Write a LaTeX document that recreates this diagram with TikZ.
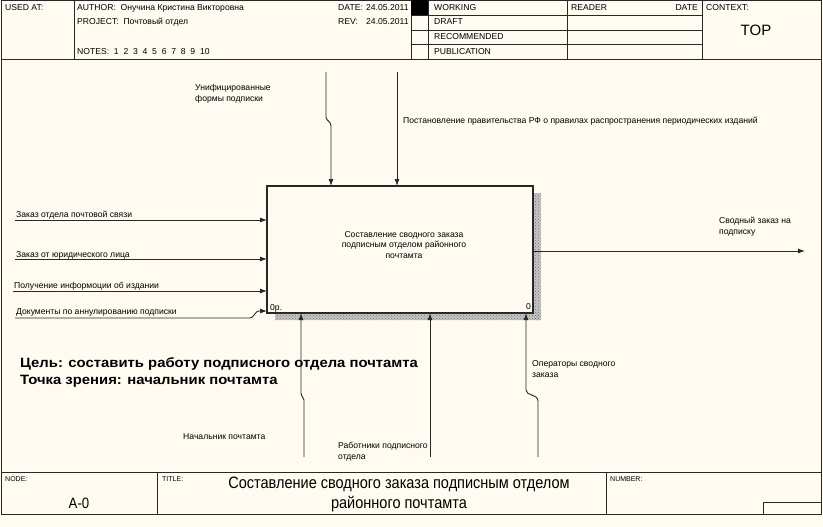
\documentclass[tikz,border=0pt]{standalone}
\usepackage{fontspec}
\setmainfont{Liberation Sans}
\newfontfamily\narrowfont[FakeStretch=0.88]{Liberation Sans}
\newfontfamily\widefont[FakeStretch=1.1]{Liberation Sans}
\usetikzlibrary{arrows.meta,patterns}
\definecolor{bg}{RGB}{255,251,240}
\definecolor{ln}{RGB}{40,40,40}
\begin{document}
\begin{tikzpicture}[x=1pt,y=-1pt,
  lbl/.style={font=\fontsize{8.6}{11}\selectfont, inner sep=0pt, anchor=west, align=left},
  tinyl/.style={font=\fontsize{7}{8}\selectfont, inner sep=0pt, anchor=west},
  arr/.style={draw=ln, line width=0.9pt, -{Latex[length=7pt,width=5pt]}},
  frm/.style={draw=ln, line width=0.8pt},
  shadowfill/.style={fill=gray!45, draw=none},
  shadowpat/.style={pattern=crosshatch dots, pattern color=gray!90!black, draw=none}]
\fill[bg] (0,0) rectangle (823,527);
\useasboundingbox (0,0) rectangle (823,527);
% frame
\draw[frm] (1.5,0.5) rectangle (821.5,514);
\draw[frm] (1.5,59) -- (821.5,59);
\draw[frm] (74,0.5) -- (74,59);
\draw[frm] (411,0.5) -- (411,59);
\draw[frm] (428,0.5) -- (428,59);
\draw[frm] (567,0.5) -- (567,59);
\draw[frm] (702,0.5) -- (702,59);
\foreach \yy in {15,30,44} \draw[frm] (411,\yy) -- (702,\yy);
\fill[black] (411,0.5) rectangle (428,15);
% header texts
\node[lbl] (usedat) at (5,8) {USED AT:};
\node[lbl] (author) at (77,8) {AUTHOR:\ \ Онучина Кристина Викторовна};
\node[lbl] (project) at (77,22) {PROJECT:\ \ Почтовый отдел};
\node[lbl] (notes) at (77,52) {NOTES:\ \ 1\ \ 2\ \ 3\ \ 4\ \ 5\ \ 6\ \ 7\ \ 8\ \ 9\ \ 10};
\node[lbl] (date) at (338,8) {DATE:};
\node[lbl] (dateval) at (366,8) {24.05.2011};
\node[lbl] (rev) at (338,22) {REV:};
\node[lbl] (revval) at (366,22) {24.05.2011};
\node[lbl] (working) at (434,8) {WORKING};
\node[lbl] (draft) at (434,22) {DRAFT};
\node[lbl] (recom) at (434,37) {RECOMMENDED};
\node[lbl] (publ) at (434,52) {PUBLICATION};
\node[lbl] (reader) at (571,8) {READER};
\node[lbl,anchor=east] (rdate) at (698,8) {DATE};
\node[lbl] (context) at (706,8) {CONTEXT:};
\node[font=\fontsize{15}{17}\selectfont, inner sep=0pt] (top) at (756,30) {TOP};
% footer
\draw[frm] (1.5,472) -- (821.5,472);
\draw[frm] (157,472) -- (157,514);
\draw[frm] (606,472) -- (606,514);
\draw[frm] (763,514) -- (763,502) -- (821.5,502);
\node[tinyl] (nodel) at (5,479) {NODE:};
\node[tinyl] (titlel) at (162,479) {TITLE:};
\node[tinyl] (numl) at (610,479) {NUMBER:};
\node[font=\narrowfont\fontsize{15}{18}\selectfont, inner sep=0pt] (a0) at (79,503) {A-0};
\node[font=\narrowfont\fontsize{16.5}{20}\selectfont, inner sep=0pt, align=center] (title) at (399,494) {Составление сводного заказа подписным отделом\\районного почтамта};
% shadow and box
\fill[shadowfill] (533,193) rectangle (541,320);
\fill[shadowfill] (275,313) rectangle (541,320);
\fill[shadowpat] (533,193) rectangle (541,320);
\fill[shadowpat] (275,313) rectangle (541,320);
\node[draw=ln, line width=1.8pt, fill=bg, minimum width=266pt, minimum height=127pt, inner sep=0pt, outer sep=0pt] (box) at (400,249.5) {};
\node[lbl, anchor=center, align=center, font=\fontsize{8.6}{10.5}\selectfont] (boxtxt) at (404,245) {Составление сводного заказа\\подписным отделом районного\\почтамта};
\node[lbl] (op) at (270,308) {0р.};
\node[lbl, anchor=east] (zero) at (531,307) {0};
% inputs
\coordinate (i1) at (15,220);
\coordinate (i2) at (15,259);
\coordinate (i3) at (13,291);
\coordinate (i4) at (15,318);
\draw[arr] (i1) -- (i1 -| box.west);
\draw[arr] (i2) -- (i2 -| box.west);
\draw[arr] (i3) -- (i3 -| box.west);
\draw[arr] (i4) -- (250,318) .. controls (254,318) and (255,311) .. (259,311) -- (box.west |- 0,311);
\node[lbl] (li1) at (16,215) {Заказ отдела почтовой связи};
\node[lbl] (li2) at (16,255) {Заказ от юридического лица};
\node[lbl] (li3) at (14,286) {Получение информоции об издании};
\node[lbl] (li4) at (16,312) {Документы по аннулированию подписки};
% output
\coordinate (o1) at (805,251);
\draw[arr] (box.east |- o1) -- (o1);
\node[lbl] (lo1) at (719,226.5) {Сводный заказ на\\подписку};
% controls
\coordinate (c1) at (326,72);
\coordinate (c2) at (397,72);
\draw[arr] (c1) -- (326,117) .. controls (326,121) and (331,121) .. (331,126) -- (331,0 |- box.north);
\draw[arr] (c2) -- (c2 |- box.north);
\node[lbl] (lc1) at (195,93.5) {Унифицированные\\формы подписки};
\node[lbl] (lc2) at (403,121) {Постановление правительства РФ о правилах распространения периодических изданий};
% goal text
\node[font=\widefont\bfseries\fontsize{13.5}{17}\selectfont, inner sep=0pt, anchor=west, align=left] (goal) at (20,372.5) {Цель: составить работу подписного отдела почтамта\\Точка зрения: начальник почтамта};
% mechanisms
\coordinate (m1) at (304,457);
\coordinate (m2) at (430,457);
\coordinate (m3) at (538,457);
\draw[arr] (m1) -- (304,400) .. controls (304,397) and (301,397) .. (301,393) -- (301,0 |- box.south);
\draw[arr] (m2) -- (m2 |- box.south);
\draw[arr] (m3) -- (538,401) .. controls (538,394) and (526,396) .. (526,390) -- (526,0 |- box.south);
\node[lbl] (lm1) at (183,437) {Начальник почтамта};
\node[lbl] (lm2) at (338,452) {Работники подписного\\отдела};
\node[lbl] (lm3) at (532,369.5) {Операторы сводного\\заказа};
\end{tikzpicture}
\end{document}
